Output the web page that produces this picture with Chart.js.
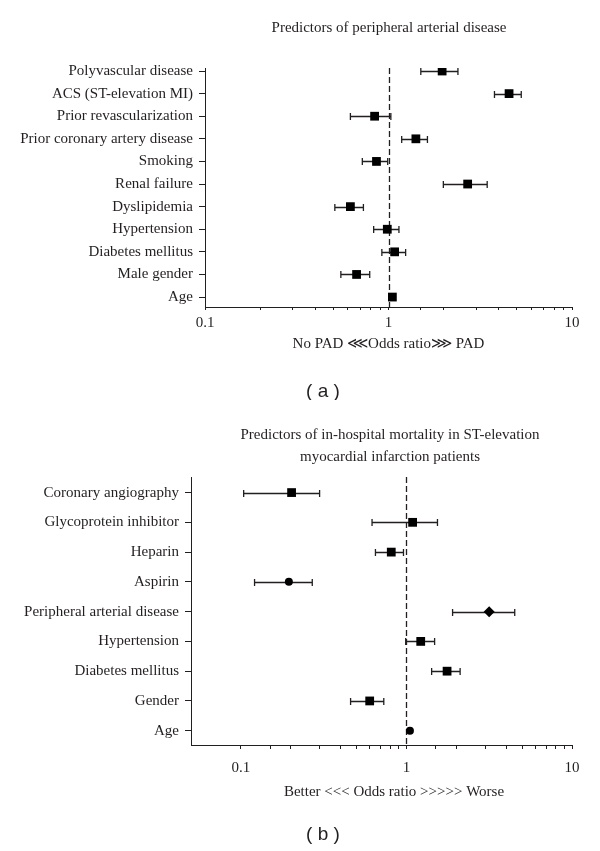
<!DOCTYPE html>
<html>
<head>
<meta charset="utf-8">
<script src="https://cdn.jsdelivr.net/npm/chart.js@4.4.0/dist/chart.umd.min.js"></script>
<style>
body{margin:0;background:#fff;width:600px;height:851px;position:relative;overflow:hidden}
canvas{position:absolute;left:0}
</style>
</head>
<body>
<canvas id="graficaA" width="600" height="400" style="top:0"></canvas>
<canvas id="graficaB" width="600" height="451" style="top:400px"></canvas>
<script>
// (a) predictores de enfermedad arterial periferica
var etiquetasA = ["Polyvascular disease", "ACS (ST-elevation MI)", "Prior revascularization", "Prior coronary artery disease", "Smoking", "Renal failure", "Dyslipidemia", "Hypertension", "Diabetes mellitus", "Male gender", "Age"];
var orA  = [1.96, 4.54, 0.84, 1.41, 0.86, 2.70, 0.62, 0.985, 1.08, 0.67, 1.05];
var infA = [1.50, 3.78, 0.62, 1.18, 0.72, 1.99, 0.51, 0.83, 0.92, 0.55, null];
var supA = [2.39, 5.29, 1.03, 1.63, 0.99, 3.45, 0.73, 1.14, 1.24, 0.79, null];
var formasA = ["rect", "rect", "rect", "rect", "rect", "rect", "rect", "rect", "rect", "rect", "rect"];

// (b) predictores de mortalidad intrahospitalaria
var etiquetasB = ["Coronary angiography", "Glycoprotein inhibitor", "Heparin", "Aspirin", "Peripheral arterial disease", "Hypertension", "Diabetes mellitus", "Gender", "Age"];
var orB  = [0.2025, 1.09, 0.81, 0.195, 3.16, 1.22, 1.76, 0.60, 1.05];
var infB = [0.104, 0.62, 0.65, 0.121, 1.90, 0.99, 1.42, 0.46, null];
var supB = [0.299, 1.54, 0.96, 0.27, 4.51, 1.48, 2.11, 0.73, null];
var formasB = ["rect", "rect", "rect", "circle", "rectRot", "rect", "rect", "rect", "circle"];

var marcasX = [0.1, 1, 10];

var colorTexto = '#231f20';
var fuenteSerif = '"Liberation Serif", "DejaVu Serif", serif';

function radioDe(forma){
  if (forma == 'circle') return 4;
  if (forma == 'rectRot') return 5.5;
  return 6.2;
}

function pluginExtras(inf, sup, textos){
  return {
    id: 'extras',
    beforeDatasetsDraw: function(chart){
      var ctx = chart.ctx, ejeX = chart.scales.x, ejeY = chart.scales.y, area = chart.chartArea;
      ctx.save();
      ctx.strokeStyle = colorTexto;
      ctx.lineWidth = 1.3;
      // linea punteada en OR = 1
      var x1 = Math.round(ejeX.getPixelForValue(1)) + 0.5;
      ctx.setLineDash([6, 3]);
      ctx.beginPath();
      ctx.moveTo(x1, area.top);
      ctx.lineTo(x1, area.bottom);
      ctx.stroke();
      ctx.setLineDash([]);
      // intervalos de confianza
      inf.forEach(function(v, i){
        if (v == null) return;
        var a = ejeX.getPixelForValue(v), b = ejeX.getPixelForValue(sup[i]);
        var py = Math.round(ejeY.getPixelForValue(i)) + 0.5;
        ctx.beginPath();
        ctx.moveTo(a, py); ctx.lineTo(b, py);
        ctx.moveTo(a, py - 3.5); ctx.lineTo(a, py + 3.5);
        ctx.moveTo(b, py - 3.5); ctx.lineTo(b, py + 3.5);
        ctx.stroke();
      });
      ctx.restore();
    },
    afterDraw: function(chart){
      var ctx = chart.ctx;
      ctx.save();
      ctx.fillStyle = colorTexto;
      ctx.textAlign = 'center';
      ctx.textBaseline = 'middle';
      textos.forEach(function(t){
        ctx.font = t.font;
        ctx.fillText(t.txt, t.x, t.y);
      });
      ctx.restore();
    }
  };
}

function graficarForest(id, etiquetas, or, inf, sup, formas, cfg){
  new Chart(document.getElementById(id), {
    type: 'scatter',
    data: {
      datasets: [{
        data: or.map(function(v, i){ return {x: v, y: i}; }),
        pointStyle: formas,
        pointRadius: formas.map(radioDe),
        pointBorderWidth: 0,
        backgroundColor: '#000',
        borderColor: '#000'
      }]
    },
    options: {
      responsive: false,
      animation: false,
      layout: {padding: {top: cfg.arriba, right: 28, left: 0, bottom: 0}},
      plugins: {legend: {display: false}, tooltip: {enabled: false}},
      scales: {
        x: {
          type: 'logarithmic',
          min: cfg.xMin,
          max: 10,
          afterBuildTicks: function(s){
            s.ticks = s.ticks.filter(function(t){ return t.value >= 0.0999; });
          },
          afterFit: function(s){ s.height = cfg.altoX; },
          grid: {drawOnChartArea: false, tickLength: cfg.largoTick, color: colorTexto},
          border: {display: true, color: colorTexto, width: 1},
          ticks: {
            autoSkip: false, maxRotation: 0, padding: cfg.padTick, color: colorTexto,
            font: {family: fuenteSerif, size: 15},
            callback: function(v){
              var ok = marcasX.some(function(m){ return Math.abs(m - v) < 1e-9; });
              return ok ? String(v) : '';
            }
          }
        },
        y: {
          type: 'linear',
          reverse: true,
          min: cfg.yMin,
          max: cfg.yMax,
          afterBuildTicks: function(s){
            s.ticks = etiquetas.map(function(e, i){ return {value: i}; });
          },
          afterFit: function(s){ s.width = cfg.anchoY; },
          grid: {drawOnChartArea: false, tickLength: 6, color: colorTexto},
          border: {display: true, color: colorTexto, width: 1},
          ticks: {
            autoSkip: false, padding: 6, color: colorTexto,
            font: {family: fuenteSerif, size: 15},
            callback: function(v){ return etiquetas[v]; }
          }
        }
      }
    },
    plugins: [pluginExtras(inf, sup, cfg.textos)]
  });
}

graficarForest('graficaA', etiquetasA, orA, infA, supA, formasA, {
  arriba: 68, anchoY: 205, altoX: 93, xMin: 0.1, yMin: -0.133, yMax: 10.44, largoTick: 3, padTick: 4,
  textos: [
    {txt: 'Predictors of peripheral arterial disease', x: 389, y: 28, font: '15px ' + fuenteSerif},
    {txt: 'No PAD \u22D8Odds ratio\u22D9 PAD', x: 388.5, y: 344, font: '15px ' + fuenteSerif},
    {txt: '( a )', x: 323, y: 392, font: '19px "Liberation Sans", Arial, sans-serif'}
  ]
});

graficarForest('graficaB', etiquetasB, orB, infB, supB, formasB, {
  arriba: 77, anchoY: 191, altoX: 106, xMin: 0.05, yMin: -0.523, yMax: 8.48, largoTick: 4, padTick: 10,
  textos: [
    {txt: 'Predictors of in-hospital mortality in ST-elevation', x: 390, y: 35, font: '15px ' + fuenteSerif},
    {txt: 'myocardial infarction patients', x: 390, y: 57, font: '15px ' + fuenteSerif},
    {txt: 'Better <<< Odds ratio >>>>> Worse', x: 394, y: 392, font: '15px ' + fuenteSerif},
    {txt: '( b )', x: 323, y: 435, font: '19px "Liberation Sans", Arial, sans-serif'}
  ]
});
</script>
</body>
</html>
